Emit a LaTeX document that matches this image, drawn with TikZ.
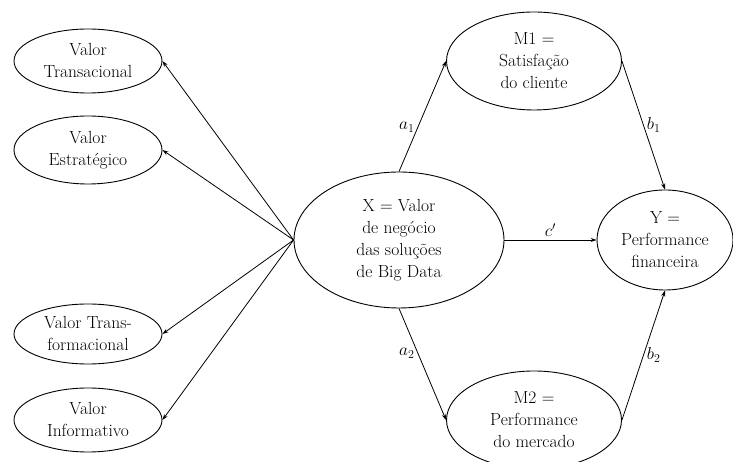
\documentclass[tikz,border=0pt]{standalone}
\usetikzlibrary{shapes.geometric,arrows.meta}
\begin{document}
\begin{tikzpicture}[x=1pt,y=1pt,
  ell/.style={ellipse,draw,line width=0.9pt,inner sep=0pt,align=center,
    font=\fontsize{17.5}{22}\selectfont},
  arr/.style={line width=0.8pt,-{Stealth[length=6pt,width=4pt]}},
  lab/.style={font=\fontsize{17.5}{21}\selectfont,inner sep=3pt}]
\useasboundingbox (0,0) rectangle (733,462);
\node[ell,minimum width=148pt,minimum height=64pt] (T) at (88,401) {Valor\\Transacional};
\node[ell,minimum width=148pt,minimum height=68pt] (E) at (88,312) {Valor\\Estratégico};
\node[ell,minimum width=148pt,minimum height=60pt] (TF) at (88,128) {Valor Trans-\\formacional};
\node[ell,minimum width=148pt,minimum height=64pt] (I) at (88,42) {Valor\\Informativo};
\node[ell,minimum width=210pt,minimum height=136pt] (X) at (399,222) {X = Valor\\de negócio\\das soluções\\de Big Data};
\node[ell,minimum width=175pt,minimum height=98pt] (M1) at (534,401) {M1 =\\Satisfação\\do cliente};
\node[ell,minimum width=175pt,minimum height=98pt] (M2) at (534,42) {M2 =\\Performance\\do mercado};
\node[ell,minimum width=136pt,minimum height=100pt] (Y) at (665,222) {Y =\\Performance\\financeira};
\draw[arr] (X.west) -- (T.east);
\draw[arr] (X.west) -- (E.east);
\draw[arr] (X.west) -- (TF.east);
\draw[arr] (X.west) -- (I.east);
\draw[arr] (X.north) -- node[lab,pos=0.4,left] {$a_1$} (M1.west);
\draw[arr] (M1.east) -- node[lab,pos=0.5,right] {$b_1$} (Y.north);
\draw[arr] (X.east) -- node[lab,above] {$c'$} (Y.west);
\draw[arr] (X.south) -- node[lab,pos=0.4,left] {$a_2$} (M2.west);
\draw[arr] (M2.east) -- node[lab,pos=0.5,right] {$b_2$} (Y.south);
\end{tikzpicture}
\end{document}
